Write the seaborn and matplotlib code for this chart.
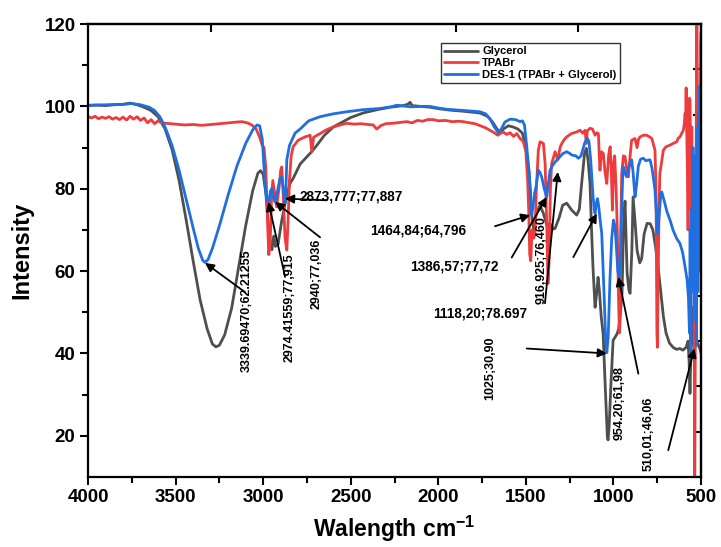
import matplotlib
matplotlib.use("Agg")
import matplotlib.pyplot as plt
import seaborn as sns
import pandas as pd
import numpy as np

# ---------------- data ----------------
glycerol_x = [4000, 3950, 3900, 3850, 3800, 3760, 3720, 3680, 3640, 3600, 3560, 3520, 3480, 3440,
              3400, 3360, 3320, 3290, 3270, 3250, 3220, 3180, 3140, 3100, 3060, 3030, 3015, 3000,
              2985, 2970, 2960, 2950, 2940, 2930, 2915, 2895, 2870, 2847, 2829, 2789, 2732, 2700,
              2650, 2600, 2561, 2500, 2430, 2350, 2276, 2200, 2175, 2161, 2150, 2100, 2047, 1990,
              1933, 1850, 1762, 1720, 1690, 1665, 1647, 1625, 1600, 1573, 1545, 1520, 1505, 1488,
              1475, 1465, 1455, 1440, 1420, 1400, 1380, 1362, 1345, 1333, 1310, 1290, 1267, 1250,
              1238, 1210, 1195, 1180, 1165, 1155, 1145, 1134, 1125, 1117, 1105, 1095, 1088, 1080,
              1070, 1059, 1045, 1035, 1031, 1025, 1015, 1002, 990, 979, 970, 960, 951, 943, 934,
              922, 912, 905, 895, 888, 875, 865, 850, 839, 825, 808, 790, 775, 760, 745, 730, 715,
              700, 680, 660, 640, 620, 603, 585, 574, 568, 563, 558, 551, 545, 540, 534, 525, 515,
              505, 500]
glycerol_y = [100.2, 100.3, 100.2, 100.4, 100.5, 100.8, 100.4, 99.8, 99.0, 97.5, 94.5, 89.5, 82.0, 72.5,
              62.5, 53.0, 46.0, 42.3, 41.6, 42.0, 44.5, 51.0, 61.0, 71.0, 79.5, 83.8, 84.4, 83.5,
              79.0, 71.0, 67.0, 65.2, 68.5, 66.0, 66.5, 72.0, 77.5, 81.3, 82.5, 86.0, 88.6, 90.2,
              93.0, 95.0, 95.9, 97.3, 98.4, 99.2, 99.8, 100.2, 100.5, 101.0, 100.2, 100.0, 99.8, 99.4,
              99.1, 98.8, 98.4, 97.6, 96.2, 94.5, 93.8, 94.6, 95.3, 95.0, 94.5, 93.5, 91.0, 86.2,
              80.0, 73.0, 70.0, 74.0, 76.0, 74.0, 71.0, 71.6, 70.2, 70.4, 73.0, 76.0, 76.5, 75.5,
              74.8, 73.6, 75.0, 82.0, 88.6, 89.8, 87.0, 81.3, 70.0, 61.0, 51.2, 55.0, 58.5, 55.0,
              49.0, 44.8, 30.0, 20.0, 19.0, 22.0, 32.0, 43.2, 44.0, 44.8, 46.0, 50.0, 54.6, 70.0, 77.0,
              59.5, 55.5, 54.6, 65.0, 78.0, 71.0, 65.0, 62.0, 63.0, 69.0, 71.6, 71.5, 70.0, 66.0, 61.0, 55.0, 49.0,
              45.0, 42.5, 41.5, 41.0, 41.2, 40.8, 41.5, 43.0, 38.0, 30.3, 40.0, 51.2, 45.0, 42.0, 41.5, 43.0, 42.0,
              41.0, 40.0]

tpabr_x = [4000, 3980, 3960, 3940, 3920, 3900, 3880, 3860, 3840, 3820, 3800, 3780, 3760, 3740,
           3720, 3700, 3680, 3660, 3640, 3620, 3600, 3580, 3550, 3500, 3450, 3400, 3350, 3300,
           3250, 3200, 3150, 3120, 3090, 3065, 3040, 3020, 3005, 2995, 2985, 2975, 2968, 2960,
           2952, 2945, 2935, 2923, 2910, 2900, 2894, 2885, 2875, 2865, 2858, 2850, 2840, 2829,
           2800, 2760, 2732, 2722, 2712, 2675, 2640, 2601, 2560, 2523, 2480, 2440, 2400, 2372,
           2352, 2330, 2300, 2260, 2220, 2180, 2150, 2120, 2090, 2060, 2028, 2000, 1960, 1920,
           1880, 1859, 1820, 1790, 1760, 1730, 1705, 1680, 1660, 1647, 1630, 1610, 1590, 1570,
           1552, 1533, 1515, 1500, 1490, 1484, 1478, 1472, 1465, 1455, 1448, 1440, 1429, 1419,
           1400, 1390, 1380, 1374, 1368, 1360, 1353, 1333, 1318, 1305, 1295, 1280, 1267, 1240,
           1210, 1190, 1175, 1162, 1155, 1150, 1134, 1120, 1105, 1095, 1086, 1080, 1077, 1068,
           1058, 1048, 1038, 1028, 1019, 1012, 1006, 1000, 993, 985, 978, 972, 966, 962, 958,
           953, 943, 934, 925, 915, 905, 896, 877, 865, 857, 848, 830, 810, 790, 781, 770, 763,
           757, 752, 749, 745, 740, 735, 715, 700, 677, 660, 639, 630, 620, 610, 601, 595, 591,
           588, 585, 582, 578, 574, 570, 566, 563, 560, 556, 553, 550, 547, 544, 540, 536, 532,
           528, 524, 520, 515, 510, 505, 500]
tpabr_y = [97.5, 97.2, 97.6, 97.0, 97.4, 97.1, 97.5, 96.9, 97.3, 96.8, 97.4, 96.7, 97.6, 96.9,
           97.5, 96.6, 97.2, 96.0, 96.8, 95.8, 96.5, 96.0, 95.9, 95.7, 95.5, 95.6, 95.4, 95.6,
           95.8, 96.0, 96.2, 96.3, 96.0, 95.5, 94.5, 92.5, 90.5, 90.0, 85.0, 72.0, 64.0, 67.0,
           78.0, 82.0, 79.0, 75.6, 80.0, 84.5, 85.3, 78.0, 68.0, 65.1, 72.0, 82.0, 88.0, 90.2,
           91.8, 92.6, 93.0, 89.0, 92.5, 93.4, 94.3, 95.0, 95.5, 95.9, 95.7, 95.8, 95.6, 95.5,
           94.5, 95.3, 95.8, 95.9, 96.1, 96.3, 96.0, 96.6, 96.4, 96.8, 96.8, 96.5, 96.6, 96.3,
           96.4, 96.3, 96.0, 95.8, 95.3, 94.8, 94.2, 93.6, 93.0, 93.4, 93.8, 93.2, 93.6, 92.7,
           93.4, 92.2, 91.5, 89.0, 82.0, 75.0, 64.0, 62.5, 70.0, 68.0, 69.1, 80.0, 89.4, 91.4,
           91.0, 86.0, 70.0, 57.0, 62.0, 80.0, 86.1, 89.0, 87.0, 90.0, 91.0, 92.0, 92.6, 93.4,
           93.8, 94.2, 93.5, 94.2, 91.0, 94.0, 94.7, 94.5, 93.0, 93.6, 93.4, 87.0, 84.5, 89.0,
           88.6, 84.0, 81.3, 88.0, 90.2, 84.0, 74.8, 86.0, 88.0, 80.0, 70.0, 55.0, 45.0, 48.0, 70.0,
           83.7, 88.0, 87.8, 85.0, 82.9, 88.0, 91.8, 92.2, 90.0, 92.0, 92.6, 93.0, 93.0, 92.5, 92.2, 90.5, 89.4,
           80.0, 45.0, 41.5, 55.0, 75.0, 83.7, 89.4, 90.2, 90.6, 91.0, 91.4, 92.3, 92.6, 93.5, 94.2, 96.0, 98.3,
           96.0, 104.5, 95.0, 85.0, 70.0, 95.0, 102.0, 101.5, 90.0, 75.0, 95.0, 80.0, 85.0, 68.0, 60.0, 5.0, 50.0,
           90.0, 125.0, 100.0, 90.0, 85.0, 80.0, 75.0]

des_x = [4000, 3900, 3800, 3750, 3700, 3650, 3620, 3590, 3560, 3520, 3480, 3440, 3400, 3370,
         3345, 3332, 3315, 3290, 3250, 3200, 3150, 3100, 3060, 3035, 3020, 3005, 2995, 2985,
         2975, 2968, 2958, 2951, 2942, 2933, 2920, 2905, 2894, 2885, 2876, 2870, 2865, 2850,
         2818, 2789, 2740, 2675, 2600, 2523, 2430, 2333, 2270, 2237, 2200, 2161, 2100, 2047,
         2000, 1952, 1850, 1762, 1730, 1705, 1680, 1657, 1640, 1620, 1590, 1560, 1533, 1520,
         1508, 1495, 1486, 1480, 1472, 1467, 1460, 1450, 1442, 1429, 1420, 1410, 1395, 1381,
         1372, 1362, 1350, 1333, 1318, 1305, 1290, 1267, 1250, 1238, 1215, 1200, 1185, 1165,
         1150, 1140, 1130, 1118, 1110, 1105, 1098, 1091, 1085, 1075, 1067, 1055, 1045, 1038,
         1030, 1020, 1010, 1000, 992, 985, 975, 968, 962, 955, 948, 943, 935, 924, 910, 896,
         888, 877, 868, 858, 845, 829, 815, 800, 791, 780, 770, 763, 755, 748, 740, 730, 724,
         710, 695, 677, 660, 640, 620, 605, 591, 580, 572, 566, 562, 558, 554, 550, 546, 542,
         538, 534, 530, 526, 522, 518, 514, 510, 507, 504, 502, 500]
des_y = [100.3, 100.4, 100.5, 100.7, 100.4, 99.8, 99.0, 97.5, 95.0, 90.5, 84.5, 77.5, 70.5, 65.5,
         62.6, 62.1, 62.8, 65.5, 71.0, 78.5, 85.5, 91.0, 94.3, 95.5, 95.3, 92.0, 85.0, 79.0,
         77.0, 76.8, 79.5, 80.0, 78.0, 76.8, 79.0, 82.3, 82.9, 80.0, 76.5, 80.0, 87.0, 90.5,
         93.5, 94.5, 96.5, 97.5, 98.2, 98.7, 99.2, 99.5, 99.9, 100.3, 100.1, 99.9, 100.0, 100.0,
         99.6, 99.3, 99.0, 98.7, 98.2, 97.0, 95.0, 93.6, 94.5, 96.2, 96.9, 96.8, 96.3, 96.5,
         95.5, 90.2, 86.0, 83.7, 76.0, 73.6, 75.5, 79.0, 80.5, 84.5, 84.0, 82.9, 80.0, 78.0,
         81.0, 84.5, 85.5, 86.5, 87.2, 87.8, 88.5, 89.0, 88.6, 88.2, 88.0, 87.4, 88.0, 91.0,
         92.3, 91.5, 87.0, 79.0, 75.0, 74.0, 76.5, 77.6, 76.0, 72.0, 69.2, 56.0, 44.0, 40.2,
         44.0, 58.0, 68.0, 72.4, 71.0, 67.0, 60.0, 58.6, 59.5, 72.0, 82.0, 85.3, 84.0, 82.9, 85.5, 87.0,
         84.0, 78.0, 81.0, 85.5, 87.2, 87.4, 86.8, 87.0, 87.0, 85.0, 82.0, 79.7, 74.0, 69.1, 73.0, 78.5, 79.2,
         77.0, 74.5, 72.4, 70.0, 68.0, 66.7, 64.5, 61.0, 58.0, 53.7, 45.0, 70.0, 40.0, 75.0, 62.0, 90.0, 55.0,
         82.0, 48.0, 88.0, 42.0, 95.0, 55.0, 98.0, 60.0, 105.0, 75.0, 115.0, 118.0]

series_names = ["Glycerol", "TPABr", "DES-1 (TPABr + Glycerol)"]
colors = ["#4f4f4f", "#ee3b3b", "#1f6fe0"]

# tick positions
x_major = [4000, 3500, 3000, 2500, 2000, 1500, 1000, 500]
x_minor = [3750, 3250, 2750, 2250, 1750, 1250, 750]
y_major = [20, 40, 60, 80, 100, 120]
y_minor = [30, 50, 70, 90, 110]
top_ticks = [4000, 3300, 2600, 1900, 1200, 500]
right_ticks = [10, 21, 32, 43, 54, 65, 76, 87, 98, 109, 120]

# annotations: (label, text_x, text_y, rotation, arrow_tail_x, arrow_tail_y, head_x, head_y)
ann_labels = ["3339.69470;62.21255", "2974.41559;77,915", "2940;77,036", "2873,777;77,887",
              "1464,84;64,796", "1386,57;77,72", "916,925;76,460", "1118,20;78.697",
              "1025;30,90", "954.20;61,98", "510,01;46,06"]
ann_text_x = [3092, 2847, 2694, 2795, 2390, 2162, 1410, 2030, 1705, 967, 801]
ann_text_y = [50.4, 51.0, 59.4, 78.0, 69.9, 61.0, 62.6, 49.7, 36.4, 28.0, 20.4]
ann_rot = [90, 90, 90, 0, 0, 0, 90, 0, 90, 90, 90]
ann_tail_x = [3104, 2875, 2675, 2637, 1676, 1581, 1391, 1229, 1495, 858, 687]
ann_tail_y = [54.9, 58.6, 68.2, 77.2, 70.9, 63.3, 52.2, 63.4, 41.2, 35.1, 16.5]
ann_head_x = [3332, 2970, 2932, 2875, 1476, 1381, 1318, 1095, 1038, 972, 538]
ann_head_y = [62.0, 76.8, 76.8, 77.6, 73.6, 78.0, 84.1, 74.0, 40.0, 58.6, 41.2]

# ---------------- build table ----------------
frames = []
for name, xs, ys in zip(series_names, [glycerol_x, tpabr_x, des_x], [glycerol_y, tpabr_y, des_y]):
    frames.append(pd.DataFrame({"wn": xs, "val": ys, "series": name}))
df = pd.concat(frames, ignore_index=True)

sns.set_theme(style="ticks")
plt.rcParams["font.family"] = ["Liberation Sans", "DejaVu Sans"]
plt.rcParams["font.weight"] = "bold"
plt.rcParams["text.color"] = "black"
plt.rcParams["axes.labelcolor"] = "black"
plt.rcParams["xtick.color"] = "black"
plt.rcParams["ytick.color"] = "black"
plt.rcParams["mathtext.fontset"] = "custom"
plt.rcParams["mathtext.rm"] = "Liberation Sans:bold"
plt.rcParams["mathtext.bf"] = "Liberation Sans:bold"
plt.rcParams["mathtext.default"] = "bf"

fig = plt.figure(figsize=(7.21, 5.47), dpi=100)
ax = fig.add_axes([0.1221, 0.128, 0.8502, 0.828])

sns.lineplot(data=df, x="wn", y="val", hue="series", hue_order=series_names,
             palette=dict(zip(series_names, colors)), estimator=None, sort=True,
             linewidth=2.0, ax=ax, legend=True)

ax.set_xlim(4000, 500)
ax.set_ylim(10, 120)
ax.set_xticks(x_major)
ax.set_xticks(x_minor, minor=True)
ax.set_yticks(y_major)
ax.set_yticks(y_minor, minor=True)
ax.tick_params(axis="both", which="major", direction="out", length=6, width=1.5,
               labelsize=13.5, colors="black", pad=3)
ax.tick_params(axis="both", which="minor", direction="out", length=4, width=1.5)
for lbl in ax.get_xticklabels() + ax.get_yticklabels():
    lbl.set_fontweight("bold")
for sp in ax.spines.values():
    sp.set_visible(True)
    sp.set_linewidth(1.6)
    sp.set_color("black")

ax.set_xlabel("Walength cm$^{-1}$", fontsize=16.5, fontweight="bold", labelpad=5)
ax.set_ylabel("Intensity", fontsize=17, fontweight="bold", labelpad=8)

# top / right inward ticks (independent divisions as in the reference)
secx = ax.secondary_xaxis("top")
secx.set_xticks(top_ticks)
secx.tick_params(direction="in", length=6, width=1.5, labeltop=False)
secx.spines["top"].set_linewidth(1.6)
secy = ax.secondary_yaxis("right")
secy.set_yticks(right_ticks)
secy.tick_params(direction="in", length=6, width=1.5, labelright=False)
secy.spines["right"].set_linewidth(1.6)

# legend
handles, labels = ax.get_legend_handles_labels()
leg = ax.legend(handles, labels, loc="upper left", bbox_to_anchor=(0.576, 0.958),
                fontsize=8, frameon=True, fancybox=False, edgecolor="black",
                borderpad=0.3, labelspacing=0.15, handlelength=3.0, handletextpad=0.4,
                borderaxespad=0)
leg.get_frame().set_linewidth(1.0)
for t in leg.get_texts():
    t.set_fontweight("bold")
for lh in leg.get_lines():
    lh.set_linewidth(2.0)

# annotations
for lab, tx, ty, rot, ax0, ay0, hx, hy in zip(ann_labels, ann_text_x, ann_text_y, ann_rot,
                                              ann_tail_x, ann_tail_y, ann_head_x, ann_head_y):
    if rot == 0:
        ax.text(tx, ty, lab, rotation=0, ha="left", va="center", fontsize=9.8, fontweight="bold")
    else:
        ax.text(tx, ty, lab, rotation=90, ha="center", va="center", fontsize=9, fontweight="bold")
    ax.annotate("", xy=(hx, hy), xytext=(ax0, ay0),
                arrowprops=dict(arrowstyle="-|>", color="black", lw=1.3, mutation_scale=13,
                                shrinkA=0, shrinkB=0))

fig.savefig("out.png", dpi=100)
